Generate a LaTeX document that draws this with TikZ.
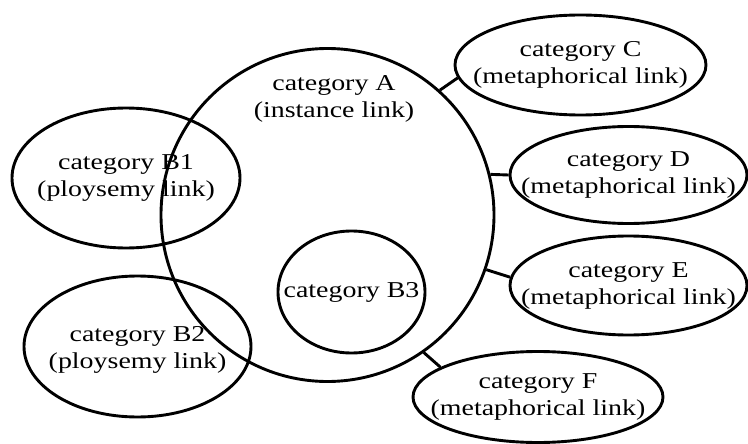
\documentclass[tikz,border=0pt]{standalone}
\usepackage{fontspec}
\newfontfamily\catfont{Liberation Serif}[FakeStretch=1.23]
\usepackage{tikz}
\usetikzlibrary{shapes.geometric}

\tikzset{
  cat/.style={draw, ellipse, line width=2.9pt, inner sep=0pt},
  lab/.style={align=center, inner sep=0pt, font=\catfont\fontsize{22.7}{27}\selectfont},
  link/.style={line width=2.9pt},
}

\begin{document}
\begin{tikzpicture}[x=1pt,y=-1pt]
\useasboundingbox (0,0) rectangle (748,444);
% main category
\node[draw, circle, line width=2.9pt, minimum size=333] (A) at (327.5,215) {};
\node[lab] (Alab) at (334,99) {category A\\(instance link)};

% polysemy links
\node[cat, minimum width=228, minimum height=140,
      label={[lab]center:category B1\\(ploysemy link)}] (B1) at (126,178) {};
\node[cat, minimum width=227, minimum height=141,
      label={[lab,yshift=-3]center:category B2\\(ploysemy link)}] (B2) at (137.5,346.5) {};
\node[cat, minimum width=147, minimum height=122,
      label={[lab]center:category B3}] (B3) at (351.5,292) {};

% metaphorical links
\node[cat, minimum width=251, minimum height=100,
      label={[lab]center:category C\\(metaphorical link)}] (C) at (580.5,65) {};
\node[cat, minimum width=237, minimum height=97,
      label={[lab]center:category D\\(metaphorical link)}] (D) at (628.5,175) {};
\node[cat, minimum width=237, minimum height=99,
      label={[lab]center:category E\\(metaphorical link)}] (E) at (628.5,285.5) {};
\node[cat, minimum width=250, minimum height=91,
      label={[lab]center:category F\\(metaphorical link)}] (F) at (538,397) {};

\draw[link] (A.48) -- (C.186);
\draw[link] (A.14) -- (D.180);
\draw[link] (A.-19) -- (E.176);
\draw[link] (A.-55) -- (F.163);
\end{tikzpicture}
\end{document}
